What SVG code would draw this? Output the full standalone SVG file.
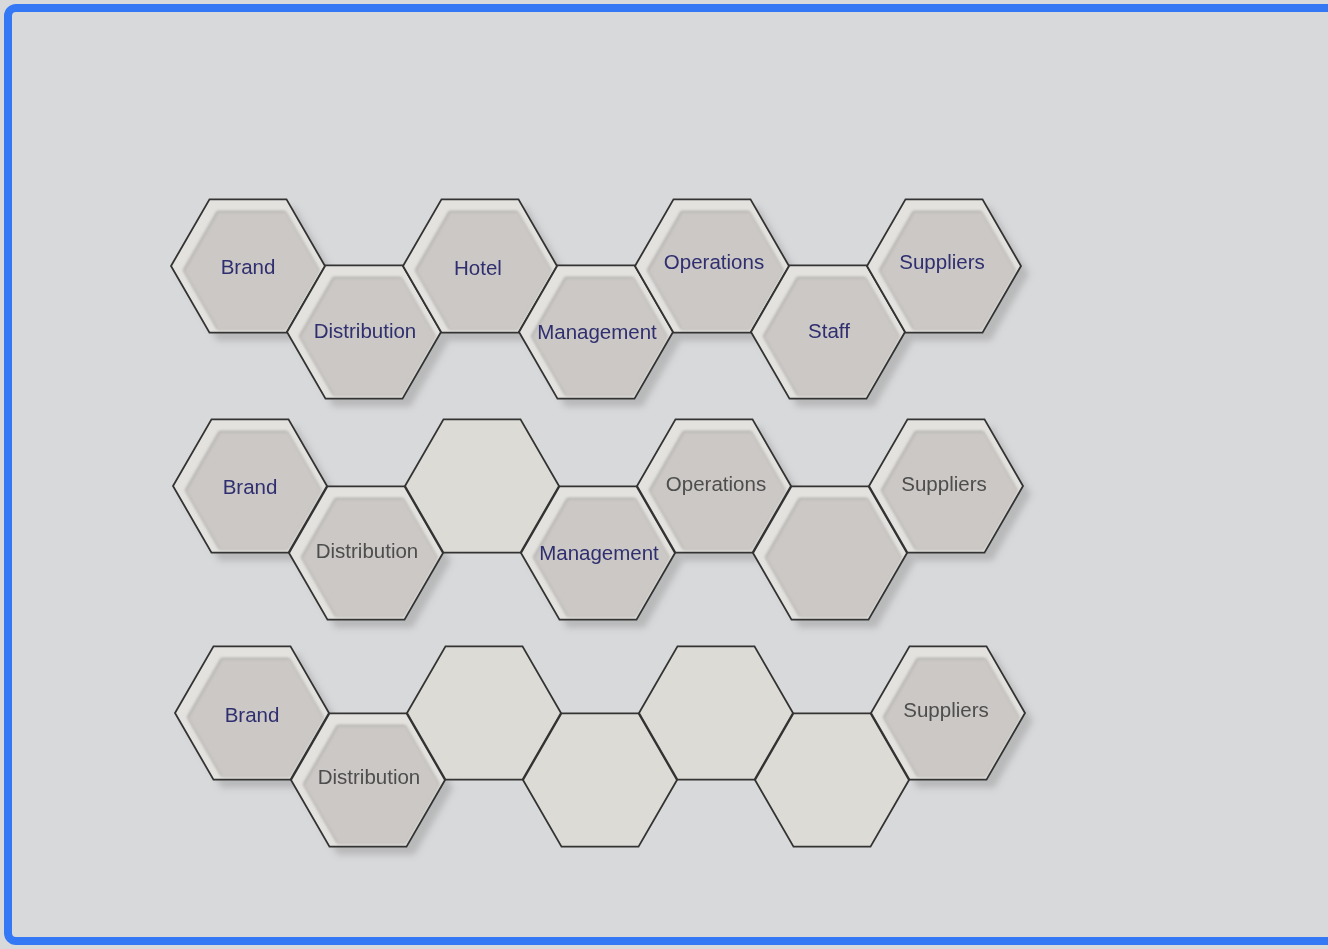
<svg xmlns="http://www.w3.org/2000/svg" width="1328" height="949" viewBox="0 0 1328 949">
<defs>
  <polygon id="hx" points="77,0 38.5,66.7 -38.5,66.7 -77,0 -38.5,-66.7 38.5,-66.7"/>
  <polygon id="hxi" points="68,0 34,58.9 -34,58.9 -68,0 -34,-58.9 34,-58.9"/>
  <filter id="sh" x="-30%" y="-30%" width="160%" height="160%">
    <feGaussianBlur stdDeviation="3"/>
  </filter>
  <filter id="soft" x="-20%" y="-20%" width="140%" height="140%">
    <feGaussianBlur stdDeviation="1.8"/>
  </filter>
  <symbol id="lab" overflow="visible">
    <use href="#hx" fill="#e3e2df"/>
    <use href="#hxi" transform="translate(3,4)" fill="#aeaca9" filter="url(#soft)"/>
    <use href="#hxi" transform="translate(4,5)" fill="#cbc8c5" filter="url(#soft)"/>
    <use href="#hx" fill="none" stroke="#333" stroke-width="1.8"/>
  </symbol>
  <symbol id="emp" overflow="visible">
    <use href="#hx" fill="#dddbd6" stroke="#333" stroke-width="1.8"/>
  </symbol>
</defs>
<style>
  .t { font-family: "Liberation Sans", Arial, sans-serif; font-size: 20.5px; text-anchor: middle; dominant-baseline: central; }
  .n { fill: #2f2f70; }
  .g { fill: #4d4d4d; }
  .shadow { fill: #9e9e9e; opacity: 0.55; }
</style>
<rect x="0" y="0" width="1328" height="949" fill="#d8d9db"/>
<rect x="8" y="8" width="1330" height="933" rx="8" fill="none" stroke="#3478f6" stroke-width="8"/>

<g id="shadows" filter="url(#sh)">
  <use href="#hx" class="shadow" x="256" y="274"/>
  <use href="#hx" class="shadow" x="372" y="340"/>
  <use href="#hx" class="shadow" x="488" y="274"/>
  <use href="#hx" class="shadow" x="604" y="340"/>
  <use href="#hx" class="shadow" x="720" y="274"/>
  <use href="#hx" class="shadow" x="836" y="340"/>
  <use href="#hx" class="shadow" x="952" y="274"/>
  <use href="#hx" class="shadow" x="258" y="494"/>
  <use href="#hx" class="shadow" x="374" y="561"/>
  <use href="#hx" class="shadow" x="606" y="561"/>
  <use href="#hx" class="shadow" x="722" y="494"/>
  <use href="#hx" class="shadow" x="838" y="561"/>
  <use href="#hx" class="shadow" x="954" y="494"/>
  <use href="#hx" class="shadow" x="260" y="721"/>
  <use href="#hx" class="shadow" x="376" y="788"/>
  <use href="#hx" class="shadow" x="956" y="721"/>
</g>

<g id="row1">
  <g id="r1-brand"><use href="#lab" x="248" y="266"/><text class="t n" x="248" y="266">Brand</text></g>
  <g id="r1-distribution"><use href="#lab" x="364" y="332"/><text class="t n" x="365" y="330">Distribution</text></g>
  <g id="r1-hotel"><use href="#lab" x="480" y="266"/><text class="t n" x="478" y="267">Hotel</text></g>
  <g id="r1-management"><use href="#lab" x="596" y="332"/><text class="t n" x="597" y="331">Management</text></g>
  <g id="r1-operations"><use href="#lab" x="712" y="266"/><text class="t n" x="714" y="261">Operations</text></g>
  <g id="r1-staff"><use href="#lab" x="828" y="332"/><text class="t n" x="829" y="330">Staff</text></g>
  <g id="r1-suppliers"><use href="#lab" x="944" y="266"/><text class="t n" x="942" y="261">Suppliers</text></g>
</g>

<g id="row2">
  <g id="r2-brand"><use href="#lab" x="250" y="486"/><text class="t n" x="250" y="486">Brand</text></g>
  <g id="r2-distribution"><use href="#lab" x="366" y="553"/><text class="t g" x="367" y="550">Distribution</text></g>
  <g id="r2-hotel"><use href="#emp" x="482" y="486"/></g>
  <g id="r2-management"><use href="#lab" x="598" y="553"/><text class="t n" x="599" y="552">Management</text></g>
  <g id="r2-operations"><use href="#lab" x="714" y="486"/><text class="t g" x="716" y="483">Operations</text></g>
  <g id="r2-staff"><use href="#lab" x="830" y="553"/></g>
  <g id="r2-suppliers"><use href="#lab" x="946" y="486"/><text class="t g" x="944" y="483">Suppliers</text></g>
</g>

<g id="row3">
  <g id="r3-brand"><use href="#lab" x="252" y="713"/><text class="t n" x="252" y="714">Brand</text></g>
  <g id="r3-distribution"><use href="#lab" x="368" y="780"/><text class="t g" x="369" y="776">Distribution</text></g>
  <g id="r3-hotel"><use href="#emp" x="484" y="713"/></g>
  <g id="r3-management"><use href="#emp" x="600" y="780"/></g>
  <g id="r3-operations"><use href="#emp" x="716" y="713"/></g>
  <g id="r3-staff"><use href="#emp" x="832" y="780"/></g>
  <g id="r3-suppliers"><use href="#lab" x="948" y="713"/><text class="t g" x="946" y="709">Suppliers</text></g>
</g>
</svg>
